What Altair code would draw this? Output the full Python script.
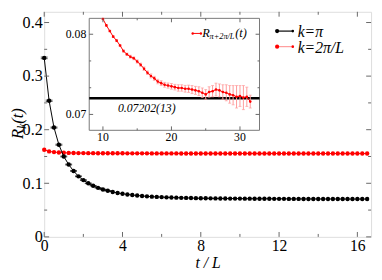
import altair as alt
import pandas as pd

# ---------------- data ----------------
t_main = [i * 0.25 for i in range(67)]  # 0 .. 16.5

black_vals = [0.334, 0.254, 0.204, 0.172, 0.150, 0.135, 0.123, 0.113, 0.106, 0.100,
              0.0955, 0.0915, 0.0885, 0.0860, 0.0838, 0.0820, 0.0805, 0.0792, 0.0781, 0.0772,
              0.0764, 0.0757, 0.0751, 0.0746, 0.0742, 0.0738, 0.0735, 0.0732, 0.0729, 0.0727,
              0.0725, 0.0723, 0.0722,
              0.0720, 0.0719, 0.0718, 0.0717, 0.0716, 0.0715, 0.0715, 0.0714,
              0.0713, 0.0713, 0.0712, 0.0712, 0.0711, 0.0711, 0.0710, 0.0710,
              0.0710, 0.0709, 0.0709, 0.0709, 0.0708, 0.0708, 0.0708, 0.0708,
              0.0707, 0.0707, 0.0707, 0.0707, 0.0706, 0.0706, 0.0706, 0.0706, 0.0706, 0.0706]
black_err = [0.0015, 0.0012, 0.0010, 0.0010, 0.0008, 0.0008, 0.0007, 0.0007,
             0.0006, 0.0006, 0.0005, 0.0005, 0.0005, 0.0004]

red_vals = [0.1625, 0.1595, 0.1582, 0.1575, 0.1570, 0.1567, 0.1565, 0.1564, 0.1563, 0.1562,
            0.1562, 0.1561, 0.1561, 0.1560, 0.1560, 0.1560, 0.1560, 0.1559, 0.1559, 0.1559,
            0.1559, 0.1559, 0.1558, 0.1558, 0.1558, 0.1558, 0.1558, 0.1558, 0.1557, 0.1557,
            0.1557, 0.1557, 0.1557, 0.1557, 0.1557, 0.1556, 0.1556, 0.1556, 0.1556, 0.1556,
            0.1556, 0.1556, 0.1556, 0.1556, 0.1555, 0.1555, 0.1555, 0.1555, 0.1555, 0.1555,
            0.1555, 0.1555, 0.1555, 0.1555, 0.1555, 0.1555, 0.1555, 0.1555, 0.1555, 0.1555,
            0.1555, 0.1555, 0.1555, 0.1555, 0.1555, 0.1555, 0.1555]

inset_t = [10.0 + 0.5 * i for i in range(44)]  # 10 .. 31.5
inset_vals = [0.0819, 0.0811, 0.0804, 0.0797, 0.0792, 0.0786, 0.0779, 0.0775, 0.0772, 0.0770,
              0.0766, 0.0762, 0.0757, 0.0752, 0.0748, 0.0745, 0.0741, 0.0739, 0.0737, 0.0736,
              0.0735, 0.0734, 0.0733, 0.0733, 0.0732, 0.0732, 0.0731, 0.0730, 0.0729, 0.0727,
              0.0725, 0.0728, 0.0729, 0.0731, 0.0730, 0.0728, 0.0727, 0.0725, 0.0724, 0.0722,
              0.0723, 0.0721, 0.0722, 0.0716]
inset_err = [0.00008, 0.00010, 0.00010, 0.00010, 0.00012, 0.00012, 0.00015, 0.00015, 0.00018, 0.00018,
             0.00020, 0.00020, 0.00022, 0.00022, 0.00025, 0.00025, 0.00028, 0.00030, 0.00030, 0.00032,
             0.00035, 0.00035, 0.00040, 0.00040, 0.00042, 0.00045, 0.00050, 0.00050, 0.00055, 0.00060,
             0.00060, 0.00065, 0.00070, 0.00080, 0.00080, 0.00090, 0.00100, 0.00110, 0.00120, 0.00140,
             0.00130, 0.00150, 0.00120, 0.00080]
plateau = 0.07202

x_major = [0, 4, 8, 12, 16]
x_minor = [2, 6, 10, 14]
y_major = [0.0, 0.1, 0.2, 0.3, 0.4]
y_minor = [0.05, 0.15, 0.25, 0.35]
ix_major = [10, 20, 30]
ix_minor = [15, 25]
iy_major = [0.07, 0.08]
iy_minor = [0.07333, 0.07667]

# ---------------- layout ----------------
W, H = 334, 230
FONT = "Liberation Serif, Times New Roman, Times, serif"
TICK_C = "#666666"

XS = alt.Scale(domain=[0, 16.7], nice=False, zero=False)
YS = alt.Scale(domain=[0, 0.42], nice=False, zero=False)
IX0, IX1 = 46, 220
IY0, IY1 = 121.1, 6.7
IXS = alt.Scale(domain=[8.0, 32.85], range=[IX0, IX1], nice=False, zero=False)
IYS = alt.Scale(domain=[0.06802, 0.08198], range=[IY0, IY1], nice=False, zero=False)

AX = alt.Axis(values=x_major, ticks=False, domain=False, grid=False, format="d",
              labelFont=FONT, labelFontSize=16, labelColor="black", labelPadding=1,
              labelFlush=False, title="t / L", titleFont=FONT, titleFontSize=16,
              titleFontStyle="italic", titleFontWeight="normal", titleColor="black",
              titlePadding=1)
AY = alt.Axis(values=y_major, ticks=False, domain=False, grid=False,
              labelExpr="datum.value == 0 ? '0' : format(datum.value, '.1f')",
              labelFont=FONT, labelFontSize=16.5, labelColor="black", labelPadding=2,
              labelFlush=False, title=None)


def X(f):
    return alt.X(f, type="quantitative", scale=XS, axis=AX)


def Y(f):
    return alt.Y(f, type="quantitative", scale=YS, axis=AY)


def IX(f):
    return alt.X(f, type="quantitative", scale=IXS, axis=None)


def IY(f):
    return alt.Y(f, type="quantitative", scale=IYS, axis=None)


black_df = pd.DataFrame({"t": t_main, "v": black_vals})
n = len(black_err)
cap_df = pd.DataFrame({"t": t_main[:n] * 2,
                       "v": [v + e for v, e in zip(black_vals[:n], black_err)] +
                            [v - e for v, e in zip(black_vals[:n], black_err)]})
red_df = pd.DataFrame({"t": t_main, "v": red_vals})

# ----- main layer -----
black_line = alt.Chart(black_df).mark_line(color="black", strokeWidth=1).encode(x=X("t"), y=Y("v"))
black_pts = alt.Chart(black_df).mark_circle(color="black", size=20, opacity=1).encode(x=X("t"), y=Y("v"))
black_caps = alt.Chart(cap_df).mark_tick(orient="horizontal", size=7, thickness=1, color="black").encode(
    x=X("t"), y=Y("v"))
red_line = alt.Chart(red_df).mark_line(color="red", strokeWidth=1).encode(x=X("t"), y=Y("v"))
red_pts = alt.Chart(red_df).mark_circle(color="red", size=20, opacity=1).encode(x=X("t"), y=Y("v"))

ticks = []
for vals, ln in ((x_major, 5), (x_minor, 3)):
    d = pd.DataFrame({"v": vals})
    ticks.append(alt.Chart(d).mark_rule(color=TICK_C, strokeWidth=1).encode(
        x=X("v"), y=alt.value(H), y2=alt.value(H - ln)))
    ticks.append(alt.Chart(d).mark_rule(color=TICK_C, strokeWidth=1).encode(
        x=X("v"), y=alt.value(0), y2=alt.value(ln)))
for vals, ln in ((y_major, 5), (y_minor, 3)):
    d = pd.DataFrame({"v": vals})
    ticks.append(alt.Chart(d).mark_rule(color=TICK_C, strokeWidth=1).encode(
        y=Y("v"), x=alt.value(0), x2=alt.value(ln)))
    ticks.append(alt.Chart(d).mark_rule(color=TICK_C, strokeWidth=1).encode(
        y=Y("v"), x=alt.value(W), x2=alt.value(W - ln)))

# legend (main data coords)
leg_df = pd.DataFrame({"x0": [11.9, 11.9], "x1": [12.7, 12.7], "y": [0.384, 0.355],
                       "lab": ["k=π", "k=2π/L"], "lc": ["black", "#ff9a9a"], "pc": ["black", "red"],
                       "tx": [12.95, 12.95]})
leg_lines = alt.Chart(leg_df).mark_rule(strokeWidth=1.2).encode(
    x=X("x0"), x2="x1", y=Y("y"), color=alt.Color("lc:N", scale=None))
leg_pts = alt.Chart(leg_df).mark_circle(size=18, opacity=1).encode(
    x=X("x0"), y=Y("y"), color=alt.Color("pc:N", scale=None))
leg_pts2 = alt.Chart(leg_df).mark_circle(size=7, opacity=1).encode(
    x=X("x1"), y=Y("y"), color=alt.Color("pc:N", scale=None))
leg_txt = alt.Chart(leg_df).mark_text(font=FONT, fontSize=16, fontStyle="italic", align="left",
                                      baseline="middle", color="black", dy=1).encode(
    x=X("tx"), y=Y("y"), text="lab:N")

# y-axis title  R_k(t), rotated
ymid = H / 2
ttl_R = alt.Chart(pd.DataFrame({"s": ["R"]})).mark_text(
    font=FONT, fontSize=17, fontStyle="italic", angle=270, align="left", baseline="alphabetic",
    color="black").encode(x=alt.value(-22), y=alt.value(ymid + 15), text="s:N")
ttl_k = alt.Chart(pd.DataFrame({"s": ["k"]})).mark_text(
    font=FONT, fontSize=12, fontStyle="italic", angle=270, align="left", baseline="alphabetic",
    color="black").encode(x=alt.value(-18.5), y=alt.value(ymid + 4.5), text="s:N")
ttl_t = alt.Chart(pd.DataFrame({"s": ["(t)"]})).mark_text(
    font=FONT, fontSize=17, fontStyle="italic", angle=270, align="left", baseline="alphabetic",
    color="black").encode(x=alt.value(-22), y=alt.value(ymid - 0.5), text="s:N")

main = alt.layer(red_line, red_pts, black_line, black_caps, black_pts, *ticks,
                 leg_lines, leg_pts, leg_pts2, leg_txt, ttl_R, ttl_k, ttl_t)

# ----- inset layer -----
ins_df = pd.DataFrame({"t": inset_t, "v": inset_vals,
                       "lo": [v - e for v, e in zip(inset_vals, inset_err)],
                       "hi": [v + e for v, e in zip(inset_vals, inset_err)]})
frame = alt.Chart(pd.DataFrame({"a": [0]})).mark_rect(fill="white", stroke="#777777", strokeWidth=1).encode(
    x=alt.value(IX0), x2=alt.value(IX1), y=alt.value(IY1), y2=alt.value(IY0))
plat = alt.Chart(pd.DataFrame({"p": [plateau]})).mark_rule(color="black", strokeWidth=2.5).encode(
    y=IY("p"), x=alt.value(IX0), x2=alt.value(IX1))
ebar = alt.Chart(ins_df).mark_rule(color="#ff9a9a", strokeWidth=1).encode(x=IX("t"), y=IY("lo"), y2="hi")
ecap_lo = alt.Chart(ins_df).mark_tick(orient="horizontal", size=3, thickness=1, color="#ff9a9a").encode(
    x=IX("t"), y=IY("lo"))
ecap_hi = alt.Chart(ins_df).mark_tick(orient="horizontal", size=3, thickness=1, color="#ff9a9a").encode(
    x=IX("t"), y=IY("hi"))
iline = alt.Chart(ins_df).mark_line(color="red", strokeWidth=1).encode(x=IX("t"), y=IY("v"))
ipts = alt.Chart(ins_df).mark_circle(color="red", size=7, opacity=1).encode(x=IX("t"), y=IY("v"))

iticks = []
for vals, ln in ((ix_major, 4), (ix_minor, 2)):
    d = pd.DataFrame({"v": vals})
    iticks.append(alt.Chart(d).mark_rule(color=TICK_C, strokeWidth=1).encode(
        x=IX("v"), y=alt.value(IY0), y2=alt.value(IY0 - ln)))
    iticks.append(alt.Chart(d).mark_rule(color=TICK_C, strokeWidth=1).encode(
        x=IX("v"), y=alt.value(IY1), y2=alt.value(IY1 + ln)))
for vals, ln in ((iy_major, 4), (iy_minor, 2)):
    d = pd.DataFrame({"v": vals})
    iticks.append(alt.Chart(d).mark_rule(color=TICK_C, strokeWidth=1).encode(
        y=IY("v"), x=alt.value(IX0), x2=alt.value(IX0 + ln)))
    iticks.append(alt.Chart(d).mark_rule(color=TICK_C, strokeWidth=1).encode(
        y=IY("v"), x=alt.value(IX1), x2=alt.value(IX1 - ln)))

ixlab = alt.Chart(pd.DataFrame({"v": ix_major, "s": ["10", "20", "30"]})).mark_text(
    font=FONT, fontSize=12, baseline="top", align="center", color="black").encode(
    x=IX("v"), y=alt.value(IY0 + 2), text="s:N")
iylab = alt.Chart(pd.DataFrame({"v": iy_major, "s": ["0.07", "0.08"]})).mark_text(
    font=FONT, fontSize=12, baseline="middle", align="right", color="black").encode(
    y=IY("v"), x=alt.value(IX0 - 3), text="s:N")
plat_txt = alt.Chart(pd.DataFrame({"x": [16.4], "y": [0.07075], "s": ["0.07202(13)"]})).mark_text(
    font=FONT, fontSize=12, fontStyle="italic", baseline="middle", align="center", color="black").encode(
    x=IX("x"), y=IY("y"), text="s:N")

il_df = pd.DataFrame({"x0": [23.1], "x1": [24.3], "y": [0.0801]})
il_line = alt.Chart(il_df).mark_rule(color="red", strokeWidth=1).encode(x=IX("x0"), x2="x1", y=IY("y"))
il_pts = alt.Chart(pd.DataFrame({"x": [23.1, 24.3], "y": [0.0801, 0.0801]})).mark_circle(
    color="red", size=6, opacity=1).encode(x=IX("x"), y=IY("y"))
il_R = alt.Chart(pd.DataFrame({"x": [24.5], "y": [0.0801], "s": ["R"]})).mark_text(
    font=FONT, fontSize=12.5, fontStyle="italic", align="left", baseline="middle", color="black").encode(
    x=IX("x"), y=IY("y"), text="s:N")
il_sub = alt.Chart(pd.DataFrame({"x": [25.55], "y": [0.07975], "s": ["π+2π/L"]})).mark_text(
    font=FONT, fontSize=8.5, fontStyle="italic", align="left", baseline="middle", color="black").encode(
    x=IX("x"), y=IY("y"), text="s:N")
il_t = alt.Chart(pd.DataFrame({"x": [29.3], "y": [0.0801], "s": ["(t)"]})).mark_text(
    font=FONT, fontSize=12.5, fontStyle="italic", align="left", baseline="middle", color="black").encode(
    x=IX("x"), y=IY("y"), text="s:N")

inset = alt.layer(frame, plat, ebar, ecap_lo, ecap_hi, iline, ipts, *iticks, ixlab, iylab,
                  plat_txt, il_line, il_pts, il_R, il_sub, il_t)

chart = alt.layer(main, inset).resolve_scale(x="independent", y="independent").properties(
    width=W, height=H,
    autosize=alt.AutoSizeParams(type="none"),
    padding={"left": 37, "top": 1, "right": 3, "bottom": 33},
).configure_view(stroke="#666666", strokeWidth=1.5).configure(background="white")

chart.save("out.html", embed_options={"renderer": "svg", "actions": False})
